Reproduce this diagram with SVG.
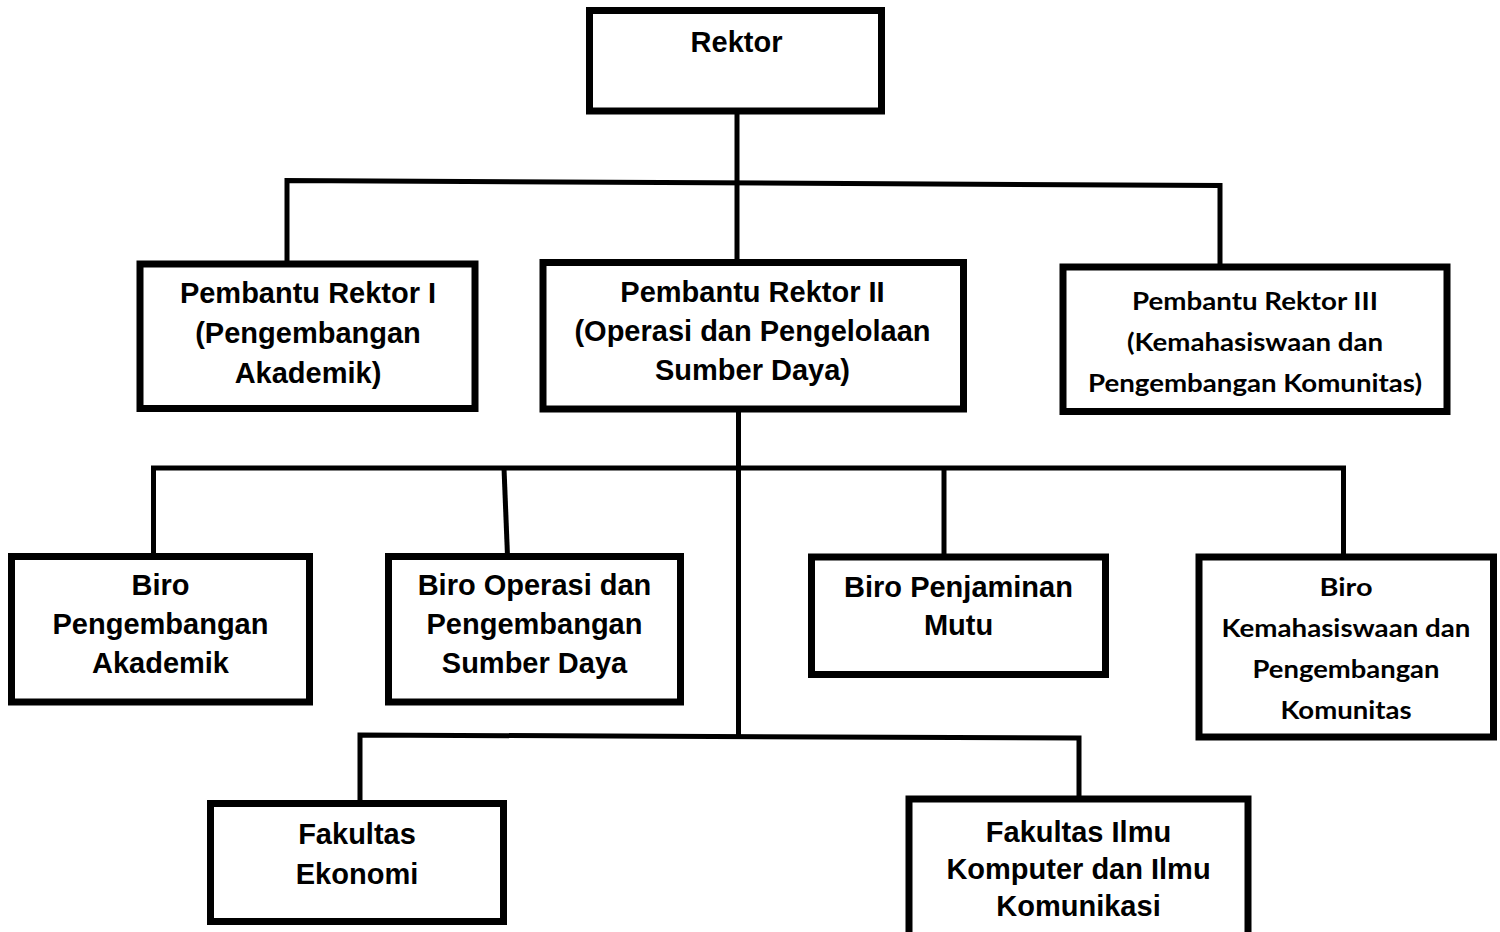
<svg xmlns="http://www.w3.org/2000/svg" width="1500" height="932" viewBox="0 0 1500 932">
<style>
.box{fill:#fff;stroke:#000;stroke-width:7}
.ln{fill:none;stroke:#000;stroke-width:5;stroke-linejoin:miter;stroke-linecap:butt}
.a{font-family:"Liberation Sans",Arial,sans-serif;font-weight:bold;font-size:29px;fill:#000;text-anchor:middle}
.c{font-family:Lato,"Open Sans",sans-serif;font-weight:bold;font-size:24px;fill:#000;text-anchor:middle}
</style>
<rect width="1500" height="932" fill="#fff"/>
<g id="connectors">
<path class="ln" d="M737,114 V262"/>
<path class="ln" d="M287,264 V180.5 L1220,185.5 V267"/>
<path class="ln" d="M738.5,409 V737"/>
<path class="ln" d="M153.5,556 V468 H1343.5 V557"/>
<path class="ln" d="M504,468 L507.5,556"/>
<path class="ln" d="M944,468 V557"/>
<path class="ln" d="M360,804 V735 L1079,738 V799"/>
</g>
<g id="rektor">
<rect class="box" x="589.5" y="10.5" width="292" height="100.5"/>
<text class="a" x="736.5" y="52">Rektor</text>
</g>
<g id="pr1">
<rect class="box" x="140" y="264" width="335" height="144.5"/>
<text class="a" x="308" y="303">Pembantu Rektor I</text>
<text class="a" x="308" y="343">(Pengembangan</text>
<text class="a" x="308" y="383">Akademik)</text>
</g>
<g id="pr2">
<rect class="box" x="543" y="262.5" width="420.5" height="146.5"/>
<text class="a" x="752.5" y="302">Pembantu Rektor II</text>
<text class="a" x="752.5" y="341">(Operasi dan Pengelolaan</text>
<text class="a" x="752.5" y="380">Sumber Daya)</text>
</g>
<g id="pr3">
<rect class="box" x="1063" y="267" width="384" height="144.5"/>
<text class="c" x="1255" y="310" textLength="246" lengthAdjust="spacingAndGlyphs">Pembantu Rektor III</text>
<text class="c" x="1255" y="351" textLength="256" lengthAdjust="spacingAndGlyphs">(Kemahasiswaan dan</text>
<text class="c" x="1255" y="392" textLength="334" lengthAdjust="spacingAndGlyphs">Pengembangan Komunitas)</text>
</g>
<g id="biro-pa">
<rect class="box" x="11.5" y="556.5" width="298" height="145.5"/>
<text class="a" x="160.5" y="595">Biro</text>
<text class="a" x="160.5" y="634">Pengembangan</text>
<text class="a" x="160.5" y="673">Akademik</text>
</g>
<g id="biro-opsd">
<rect class="box" x="388.5" y="556.5" width="292" height="145.5"/>
<text class="a" x="534.5" y="595">Biro Operasi dan</text>
<text class="a" x="534.5" y="634">Pengembangan</text>
<text class="a" x="534.5" y="673">Sumber Daya</text>
</g>
<g id="biro-pm">
<rect class="box" x="811.5" y="557" width="294" height="117.5"/>
<text class="a" x="958.5" y="597">Biro Penjaminan</text>
<text class="a" x="958.5" y="635">Mutu</text>
</g>
<g id="biro-k">
<rect class="box" x="1199" y="557" width="294.5" height="180"/>
<text class="c" x="1346" y="596" textLength="53" lengthAdjust="spacingAndGlyphs">Biro</text>
<text class="c" x="1346" y="637" textLength="249" lengthAdjust="spacingAndGlyphs">Kemahasiswaan dan</text>
<text class="c" x="1346" y="678" textLength="187" lengthAdjust="spacingAndGlyphs">Pengembangan</text>
<text class="c" x="1346" y="718.5" textLength="131" lengthAdjust="spacingAndGlyphs">Komunitas</text>
</g>
<g id="fak-ekonomi">
<rect class="box" x="210.5" y="803.5" width="293" height="118"/>
<text class="a" x="357" y="844">Fakultas</text>
<text class="a" x="357" y="884">Ekonomi</text>
</g>
<g id="fak-ilkom">
<rect class="box" x="909" y="799" width="339" height="150"/>
<text class="a" x="1078.5" y="842">Fakultas Ilmu</text>
<text class="a" x="1078.5" y="879">Komputer dan Ilmu</text>
<text class="a" x="1078.5" y="916">Komunikasi</text>
</g>
</svg>
